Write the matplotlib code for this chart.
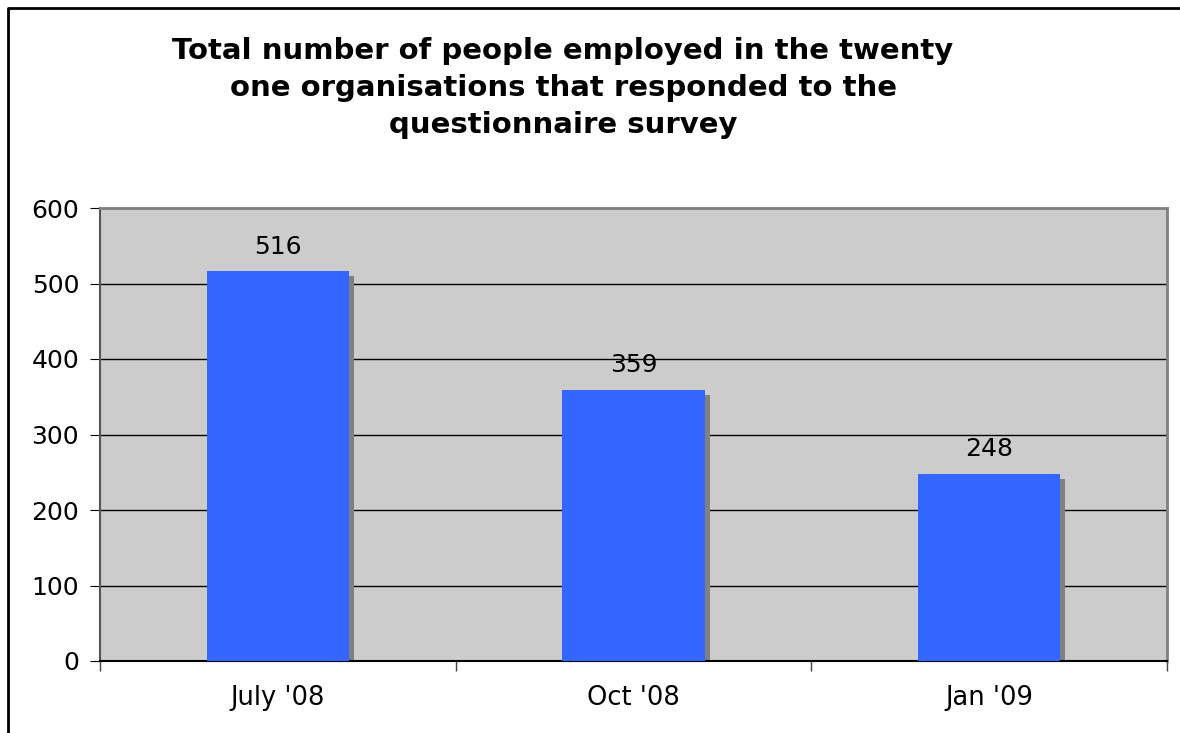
import matplotlib.pyplot as plt
from matplotlib.lines import Line2D
import numpy as np

plt.rcParams['font.family'] = ['DejaVu Sans']

# data
periods = ["July '08", "Oct '08", "Jan '09"]
employed = [516, 359, 248]
yticks = [0, 100, 200, 300, 400, 500, 600]
title = ('Total number of people employed in the twenty\n'
         'one organisations that responded to the\n'
         'questionnaire survey')

fig = plt.figure(figsize=(11.8, 7.33), dpi=100)
# outer chart frame: only left and top edges are visible in the original
fx, fy = 7.5 / 1180, 1 - 8 / 733
fig.lines.append(Line2D([fx, fx, 1.0], [0.0, fy, fy], transform=fig.transFigure,
                        color='black', linewidth=2))

ax = fig.add_axes([100 / 1180, 1 - 661 / 733, 1067 / 1180, 453 / 733])
ax.set_facecolor('#CCCCCC')

x = np.arange(len(periods))
w = 0.40
# shadow bars, shifted right and down a little
dx = 5 / 355.7
dy = 5 * 600 / 453
ax.bar(x + dx, np.array(employed) - dy, width=w, color='#808080', zorder=2)
ax.bar(x, employed, width=w, color='#3366FF', zorder=3)

for xi, v in zip(x, employed):
    ax.text(xi, v + 17, str(v), ha='center', va='bottom', fontsize=18, zorder=4)

ax.set_xlim(-0.5, len(periods) - 0.5)
ax.set_ylim(0, 600)
ax.set_yticks(yticks)
ax.yaxis.grid(True, color='black', linewidth=1)
ax.set_axisbelow(True)

ax.set_xticks(x)
ax.set_xticklabels(periods, fontsize=18.5)
ax.tick_params(axis='x', length=0, pad=17)
ax.set_xticks(np.arange(len(periods) + 1) - 0.5, minor=True)
ax.tick_params(axis='x', which='minor', length=7, color='#444444', width=1)
ax.tick_params(axis='y', labelsize=18, length=7, color='black', pad=8)

for s in ['top', 'right']:
    ax.spines[s].set_color('#808080')
    ax.spines[s].set_linewidth(2)
ax.spines['left'].set_color('#555555')
ax.spines['left'].set_linewidth(1.5)
ax.spines['bottom'].set_color('black')
ax.spines['bottom'].set_linewidth(1.5)

fig.text(563 / 1180, 1 - 88 / 733, title, ha='center', va='center',
         fontsize=21, fontweight='bold', linespacing=1.42)

fig.savefig('out.png', dpi=100)
